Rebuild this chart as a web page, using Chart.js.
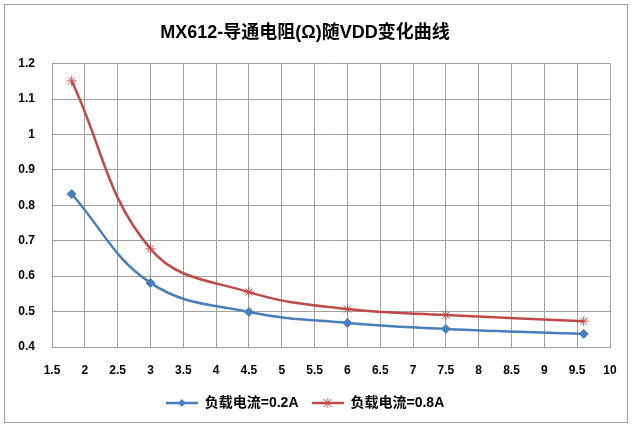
<!DOCTYPE html>
<html>
<head>
<meta charset="utf-8">
<script src="https://cdn.jsdelivr.net/npm/chart.js@4"></script>
<style>
  body { margin: 0; background: #fff; }
  #wrap { position: relative; width: 634px; height: 429px; }
  #frame { position: absolute; left: 4px; top: 4px; width: 624px; height: 419px; border: 1px solid #a0a0a0; box-sizing: border-box; pointer-events: none; }
</style>
</head>
<body>
<div id="wrap">
  <canvas id="chart" width="634" height="429"></canvas>
  <div id="frame"></div>
</div>
<script>
const title = "MX612-导通电阻(Ω)随VDD变化曲线";
const vdd = [1.8, 3, 4.5, 6, 7.5, 9.6];
const seriesNames = ["负载电流=0.2A", "负载电流=0.8A"];
const r02 = [0.832, 0.581, 0.499, 0.468, 0.451, 0.437];
const r08 = [1.151, 0.677, 0.555, 0.507, 0.49, 0.473];
const xTicks = [1.5, 2, 2.5, 3, 3.5, 4, 4.5, 5, 5.5, 6, 6.5, 7, 7.5, 8, 8.5, 9, 9.5, 10];
const yTicks = [0.4, 0.5, 0.6, 0.7, 0.8, 0.9, 1, 1.1, 1.2];

const blue = "#4a7ebb";
const red = "#be4b48";
const fontFamily = "'Liberation Sans', 'Noto Sans CJK SC', sans-serif";

// legend symbol: short line with the marker in the middle
function legendIcon(color, style) {
  const c = document.createElement("canvas");
  c.width = 32; c.height = 12;
  const g = c.getContext("2d");
  g.strokeStyle = color; g.lineWidth = 2.5;
  g.beginPath(); g.moveTo(0, 6); g.lineTo(32, 6); g.stroke();
  g.fillStyle = color;
  if (style === "rectRot") {
    g.beginPath(); g.moveTo(16, 2); g.lineTo(20, 6); g.lineTo(16, 10); g.lineTo(12, 6); g.closePath(); g.fill();
  } else {
    g.lineWidth = 1;
    g.beginPath();
    g.moveTo(12, 2); g.lineTo(20, 10); g.moveTo(20, 2); g.lineTo(12, 10);
    g.moveTo(16, 1); g.lineTo(16, 11);
    g.stroke();
  }
  return c;
}

const toPoints = ys => vdd.map((x, i) => ({ x: x, y: ys[i] }));

new Chart(document.getElementById("chart"), {
  type: "line",
  data: {
    datasets: [
      {
        label: seriesNames[0],
        data: toPoints(r02),
        borderColor: blue,
        backgroundColor: blue,
        borderWidth: 2.5,
        pointStyle: "rectRot",
        pointRadius: 4.5,
        pointBorderWidth: 1,
        tension: 0.4
      },
      {
        label: seriesNames[1],
        data: toPoints(r08),
        borderColor: red,
        backgroundColor: red,
        borderWidth: 2.5,
        pointStyle: "star",
        pointRadius: 5,
        pointBorderWidth: 1,
        tension: 0.4
      }
    ]
  },
  options: {
    responsive: false,
    animation: false,
    layout: { padding: { left: 0, right: 24, top: 0, bottom: 9 } },
    plugins: {
      title: {
        display: true,
        text: title,
        color: "#000",
        font: { family: fontFamily, size: 18, weight: "bold" },
        padding: { top: 22, bottom: 20 }
      },
      legend: {
        position: "bottom",
        labels: {
          color: "#000",
          font: { family: fontFamily, size: 14, weight: "bold" },
          usePointStyle: true,
          pointStyleWidth: 32,
          padding: 13,
          generateLabels: chart => chart.data.datasets.map((ds, i) => ({
            text: ds.label,
            pointStyle: legendIcon(ds.borderColor, ds.pointStyle),
            fillStyle: ds.borderColor,
            strokeStyle: ds.borderColor,
            lineWidth: 0,
            datasetIndex: i
          }))
        }
      },
      tooltip: { enabled: false }
    },
    scales: {
      x: {
        type: "linear",
        min: 1.5,
        max: 10,
        afterBuildTicks: s => { s.ticks = xTicks.map(v => ({ value: v })); },
        afterFit: s => { s.height = 36; },
        grid: { color: "#a0a0a0", drawTicks: false },
        border: { color: "#a0a0a0" },
        ticks: {
          color: "#000",
          padding: 16,
          maxRotation: 0,
          autoSkip: false,
          font: { family: fontFamily, size: 12, weight: "bold" },
          callback: v => String(v)
        }
      },
      y: {
        min: 0.4,
        max: 1.2,
        afterBuildTicks: s => { s.ticks = yTicks.map(v => ({ value: v })); },
        afterFit: s => { s.width = 52; },
        grid: { color: "#a0a0a0", drawTicks: false },
        border: { color: "#a0a0a0" },
        ticks: {
          color: "#000",
          padding: 17,
          font: { family: fontFamily, size: 12, weight: "bold" },
          callback: v => String(v)
        }
      }
    }
  }
});
</script>
</body>
</html>
